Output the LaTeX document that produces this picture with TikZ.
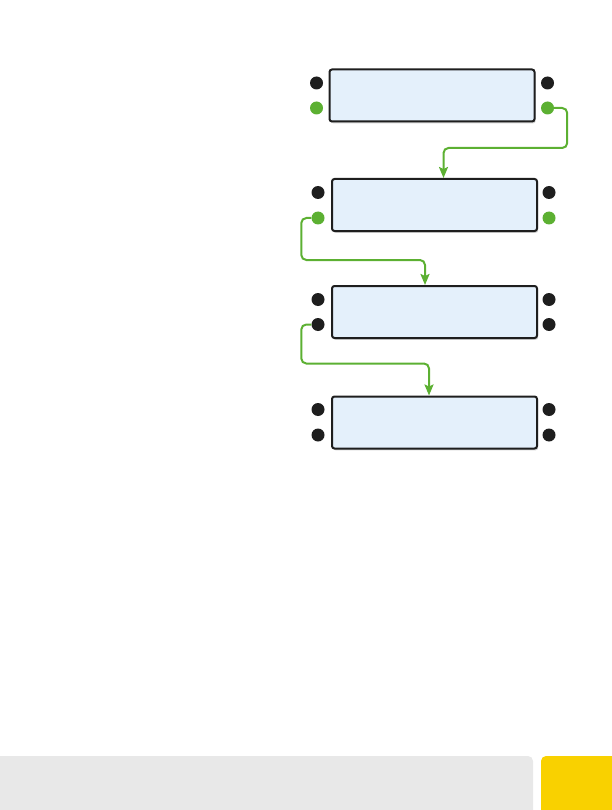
\documentclass[tikz,border=0pt]{standalone}
\usepackage{xcolor}
\usepackage{tikz}
\usetikzlibrary{arrows.meta, positioning, shadows}
\definecolor{boxfill}{RGB}{228,240,251}
\definecolor{boxline}{RGB}{30,30,30}
\definecolor{dotdark}{RGB}{30,30,30}
\definecolor{wiregreen}{RGB}{92,176,50}
\definecolor{footgray}{RGB}{232,232,232}
\definecolor{footyellow}{RGB}{249,209,0}
\tikzset{
  unit/.style={rectangle, draw=boxline, fill=boxfill, line width=2pt,
    minimum width=205pt, minimum height=52pt, rounded corners=2.5pt,
    drop shadow={shadow xshift=1.2pt, shadow yshift=-1.8pt, opacity=0.35}},
  pin/.style={circle, fill=dotdark, minimum size=13pt, inner sep=0pt},
  gpin/.style={pin, fill=wiregreen},
  wire/.style={-{Stealth[length=11pt, width=9pt, inset=2pt]}, line width=2pt,
    color=wiregreen, rounded corners=5pt}
}
\begin{document}
\begin{tikzpicture}[x=1pt, y=-1pt]
  \useasboundingbox (0,0) rectangle (612,810);

  % the four units
  \node[unit] (box1) at (432,95.5) {};
  \node[unit] (box2) at (434.5,205) {};
  \node[unit] (box3) at (434.5,312) {};
  \node[unit] (box4) at (434.5,422.5) {};

  % pins of each unit
  \node[pin]  (b1lt) at ([xshift=-12pt, yshift=12.5pt]box1.west) {};
  \node[gpin] (b1lb) at ([xshift=-12pt, yshift=-12.5pt]box1.west) {};
  \node[pin]  (b1rt) at ([xshift=12pt, yshift=12.5pt]box1.east) {};
  \node[gpin] (b1rb) at ([xshift=12pt, yshift=-12.5pt]box1.east) {};

  \node[pin]  (b2lt) at ([xshift=-13pt, yshift=12.5pt]box2.west) {};
  \node[gpin] (b2lb) at ([xshift=-13pt, yshift=-13pt]box2.west) {};
  \node[pin]  (b2rt) at ([xshift=11pt, yshift=12.5pt]box2.east) {};
  \node[gpin] (b2rb) at ([xshift=11pt, yshift=-13pt]box2.east) {};

  \node[pin] (b3lt) at ([xshift=-13pt, yshift=12.5pt]box3.west) {};
  \node[pin] (b3lb) at ([xshift=-13pt, yshift=-12.5pt]box3.west) {};
  \node[pin] (b3rt) at ([xshift=11pt, yshift=12.5pt]box3.east) {};
  \node[pin] (b3rb) at ([xshift=11pt, yshift=-12.5pt]box3.east) {};

  \node[pin] (b4lt) at ([xshift=-13pt, yshift=13pt]box4.west) {};
  \node[pin] (b4lb) at ([xshift=-13pt, yshift=-12.5pt]box4.west) {};
  \node[pin] (b4rt) at ([xshift=11pt, yshift=13pt]box4.east) {};
  \node[pin] (b4rb) at ([xshift=11pt, yshift=-12.5pt]box4.east) {};

  % daisy chain wiring
  \draw[wire] (b1rb.east) -| ++(13,40) -| ([xshift=9pt]box2.north);
  \draw[wire] (b2lb.west) -| ++(-10,42) -| ([xshift=-9.5pt]box3.north);
  \draw[wire] (b3lb.west) -| ++(-10,39) -| ([xshift=-5.5pt]box4.north);

  % footer bar
  \fill[footgray, rounded corners=5pt] (-10,756) rectangle (533,830);
  \fill[footyellow, rounded corners=5pt] (541,756) rectangle (630,830);
\end{tikzpicture}
\end{document}
